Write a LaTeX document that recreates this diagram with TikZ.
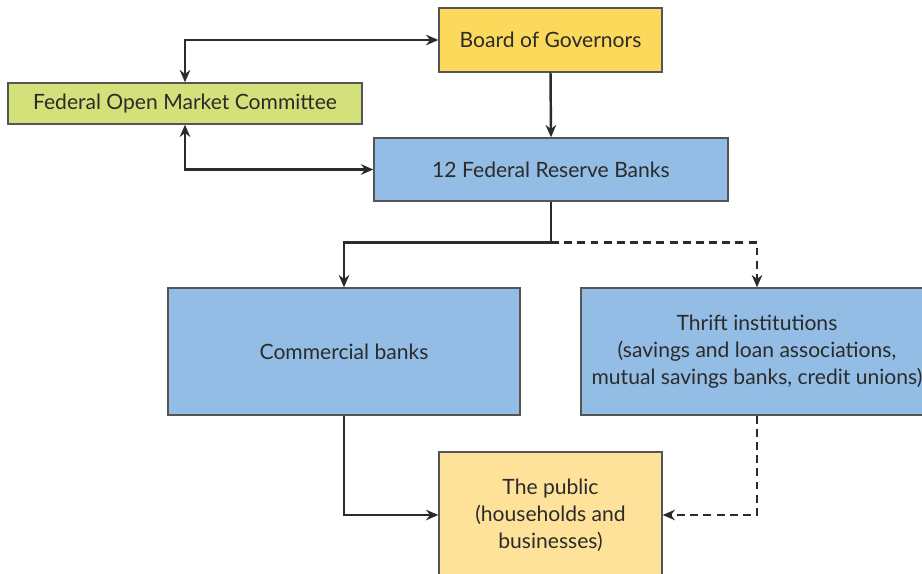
\documentclass[tikz,border=0pt]{standalone}
\usepackage{fontspec}
\setmainfont{Lato}
\usepackage{xcolor}
\definecolor{govyellow}{HTML}{FCD95B}
\definecolor{fomcgreen}{HTML}{D4E07A}
\definecolor{bankblue}{HTML}{93BDE5}
\definecolor{publicyellow}{HTML}{FEE29A}
\definecolor{darktext}{HTML}{2B2B2B}
\definecolor{boxline}{HTML}{555555}
\usetikzlibrary{arrows.meta, positioning, calc}

\begin{document}
\begin{tikzpicture}[
    x=0.02cm, y=0.02cm,
    box/.style  = {rectangle, draw=boxline, line width=0.8pt, align=center,
                   inner sep=0pt, text=darktext,
                   font=\fontsize{12}{15.4}\selectfont},
    arr/.style  = {-{Stealth[length=7pt,width=6pt]}, line width=1.4pt, color=darktext},
    twoway/.style = {{Stealth[length=7pt,width=6pt]}-{Stealth[length=7pt,width=6pt]},
                   line width=1.4pt, color=darktext},
    dasharr/.style = {arr, dash pattern=on 4.5pt off 3pt},
  ]
    \useasboundingbox (0,0) rectangle (922,574);

    % ── Top level ────────────────────────────────────────────
    \node[box, fill=govyellow, minimum width=4.46cm, minimum height=1.28cm]
        (board) at (550.5,534) {Board of Governors};
    \node[box, fill=fomcgreen, minimum width=7.08cm, minimum height=0.82cm]
        (fomc) at (185,470.5) {Federal Open Market Committee};
    \node[box, fill=bankblue, minimum width=7.08cm, minimum height=1.26cm]
        (frb) at (551,404.5) {12 Federal Reserve Banks};

    % ── Depository institutions ──────────────────────────────
    \node[box, fill=bankblue, minimum width=7.04cm, minimum height=2.54cm]
        (comm) at (344,222.5) {Commercial banks};
    \node[box, fill=bankblue, minimum width=7.04cm, minimum height=2.54cm]
        (thrift) at (757,222.5) {Thrift institutions\\(savings and loan associations,\\mutual savings banks, credit unions)};

    % ── Public ───────────────────────────────────────────────
    \node[box, fill=publicyellow, minimum width=4.46cm, minimum height=2.52cm]
        (public) at (550.5,59) {The public\\(households and\\businesses)};

    % ── Connectors ───────────────────────────────────────────
    \coordinate (split) at ($(frb.south)+(0,-41)$);
    \draw[twoway] (fomc.north) |- (board.west);
    \draw[twoway] (fomc.south) |- (frb.west);
    \draw[arr] (board.south) -- (frb.north);
    \draw[arr] (frb.south) -- (split) -| (comm.north);
    \draw[dasharr] (split) -| (thrift.north);
    \draw[arr] (comm.south) |- (public.west);
    \draw[dasharr] (thrift.south) |- (public.east);
\end{tikzpicture}
\end{document}
